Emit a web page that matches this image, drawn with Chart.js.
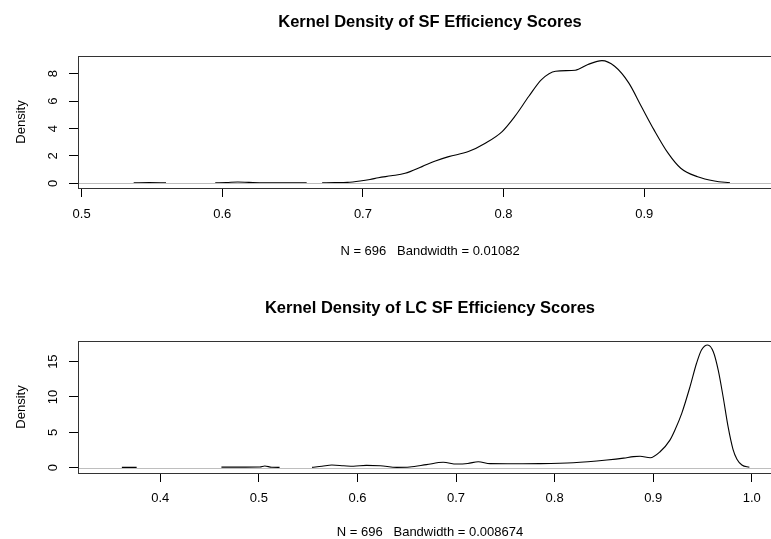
<!DOCTYPE html>
<html lang="en">
<head>
  <meta charset="UTF-8" />
  <title>Kernel Density of Efficiency Scores</title>
  <script src="https://cdn.jsdelivr.net/npm/chart.js"></script>
  <style>
    html, body { margin: 0; padding: 0; background: #fff; overflow: hidden; width: 771px; height: 539px; }
    .plot { position: absolute; left: 0; }
    #top { top: 0; }
    #bottom { top: 270px; }
  </style>
</head>
<body>
  <div class="plot" id="top"><canvas id="sfChart" width="782" height="270"></canvas></div>
  <div class="plot" id="bottom"><canvas id="lcChart" width="782" height="275"></canvas></div>

  <script>
    // SF efficiency density (null = curve hidden under the zero line)
    const sfX = [0.537, 0.548, 0.560, 0.578, 0.595, 0.603, 0.611, 0.619, 0.630, 0.645, 0.660, 0.666,
                 0.671, 0.680, 0.689, 0.698, 0.705, 0.711, 0.720, 0.730, 0.742, 0.7515, 0.761, 0.775,
                 0.787, 0.799, 0.808, 0.818, 0.827, 0.837, 0.851, 0.860, 0.870, 0.879, 0.889, 0.898,
                 0.907, 0.917, 0.926, 0.938, 0.950, 0.961];
    const sfY = [0.04, 0.05, 0.04, null, 0.04, 0.06, 0.10, 0.07, 0.04, 0.04, 0.04, null,
                 0.04, 0.05, 0.07, 0.17, 0.28, 0.41, 0.55, 0.73, 1.22, 1.63, 1.95, 2.32,
                 2.93, 3.78, 4.88, 6.35, 7.57, 8.18, 8.25, 8.67, 8.95, 8.54, 7.33, 5.61,
                 3.90, 2.20, 1.10, 0.48, 0.17, 0.04];

    // LC SF efficiency density
    const lcX = [0.361, 0.376, 0.420, 0.462, 0.480, 0.501, 0.506, 0.513, 0.521, 0.538,
                 0.554, 0.564, 0.574, 0.586, 0.596, 0.609, 0.623, 0.640, 0.653, 0.670, 0.687,
                 0.7007, 0.712, 0.7226, 0.7345, 0.760, 0.785, 0.819, 0.853, 0.870, 0.880, 0.8867,
                 0.897, 0.907, 0.917, 0.922, 0.929, 0.9374, 0.944, 0.949, 0.9553, 0.961, 0.966,
                 0.971, 0.976, 0.981, 0.985, 0.990, 0.9976];
    const lcY = [0.05, 0.05, null, 0.08, 0.08, 0.10, 0.24, 0.06, 0.05, null,
                 0.05, 0.20, 0.38, 0.28, 0.20, 0.33, 0.28, 0.05, 0.10, 0.43, 0.76,
                 0.52, 0.60, 0.85, 0.57, 0.55, 0.57, 0.71, 1.09, 1.35, 1.56, 1.61,
                 1.41, 2.26, 3.90, 5.30, 7.69, 11.46, 14.77, 16.65, 17.36, 16.40, 13.80,
                 10.00, 5.80, 2.60, 1.20, 0.38, 0.05];

    const sfYTicks = [0, 2, 4, 6, 8];
    const lcYTicks = [0, 5, 10, 15];

    const FONT = '"Liberation Sans", Arial, sans-serif';
    Chart.defaults.font.family = FONT;
    Chart.defaults.color = '#000';

    // R-like frame, grey zero line and rotated y tick labels
    const rFrame = {
      id: 'rFrame',
      afterDatasetsDraw(chart) {
        const { ctx, chartArea: a, scales } = chart;
        const y0 = Math.round(scales.y.getPixelForValue(0)) + 0.5;
        ctx.save();
        ctx.strokeStyle = '#bebebe';
        ctx.lineWidth = 1;
        ctx.beginPath();
        ctx.moveTo(a.left, y0);
        ctx.lineTo(a.right, y0);
        ctx.stroke();
        ctx.strokeStyle = '#333';
        ctx.strokeRect(a.left + 0.5, a.top + 0.5, a.right - a.left, a.bottom - a.top);
        ctx.fillStyle = '#000';
        ctx.font = '13px ' + FONT;
        ctx.textAlign = 'center';
        ctx.textBaseline = 'middle';
        chart.options.yLabels.forEach(v => {
          ctx.save();
          ctx.translate(53.3, scales.y.getPixelForValue(v));
          ctx.rotate(-Math.PI / 2);
          ctx.fillText(String(v), 0, 0);
          ctx.restore();
        });
        ctx.restore();
      }
    };

    function makeChart(id, xs, ys, cfg) {
      return new Chart(document.getElementById(id), {
        type: 'line',
        data: {
          datasets: [{
            data: xs.map((x, i) => ({ x: x, y: ys[i] })),
            borderColor: '#000',
            borderWidth: 1.1,
            pointRadius: 0,
            spanGaps: false,
            cubicInterpolationMode: 'monotone'
          }]
        },
        options: {
          responsive: false,
          animation: false,
          yLabels: cfg.yTicks,
          layout: { padding: 0 },
          plugins: {
            legend: { display: false },
            tooltip: { enabled: false },
            title: {
              display: true,
              text: cfg.title,
              fullSize: false,
              color: '#000',
              font: { size: 16.5, weight: 'bold' },
              padding: cfg.titlePad
            }
          },
          scales: {
            x: {
              type: 'linear',
              min: cfg.xMin,
              max: cfg.xMax,
              afterFit: s => { s.height = cfg.xHeight; },
              border: { display: false },
              grid: { drawOnChartArea: false, drawTicks: true, tickLength: 9, color: '#000' },
              ticks: {
                stepSize: 0.1,
                includeBounds: false,
                padding: cfg.xTickPad,
                font: { size: 13 },
                maxRotation: 0,
                autoSkip: false,
                callback: v => v.toFixed(1)
              },
              title: {
                display: true,
                text: cfg.sub,
                font: { size: 13 },
                padding: { top: 0, bottom: cfg.subPad }
              }
            },
            y: {
              min: cfg.yMin,
              max: cfg.yMax,
              afterFit: s => { s.width = 78; },
              border: { display: false },
              grid: { drawOnChartArea: false, drawTicks: true, tickLength: 9, color: '#000' },
              ticks: { stepSize: cfg.yStep, includeBounds: false, display: false },
              title: {
                display: true,
                text: 'Density',
                font: { size: 13 },
                padding: { top: 13.9, bottom: 0 }
              }
            }
          }
        },
        plugins: [rFrame]
      });
    }

    makeChart('sfChart', sfX, sfY, {
      title: 'Kernel Density of SF Efficiency Scores',
      sub: 'N = 696   Bandwidth = 0.01082',
      titlePad: { top: 12.6, bottom: 23.6 },
      xMin: 0.4974, xMax: 0.998, xHeight: 82, xTickPad: 10, subPad: 10.7,
      yMin: -0.34, yMax: 9.29, yStep: 2, yTicks: sfYTicks
    });

    makeChart('lcChart', lcX, lcY, {
      title: 'Kernel Density of LC SF Efficiency Scores',
      sub: 'N = 696   Bandwidth = 0.008674',
      titlePad: { top: 28.1, bottom: 23.1 },
      xMin: 0.3165, xMax: 1.0307, xHeight: 72, xTickPad: 8.7, subPad: 5.2,
      yMin: -0.75, yMax: 17.92, yStep: 5, yTicks: lcYTicks
    });
  </script>
</body>
</html>
